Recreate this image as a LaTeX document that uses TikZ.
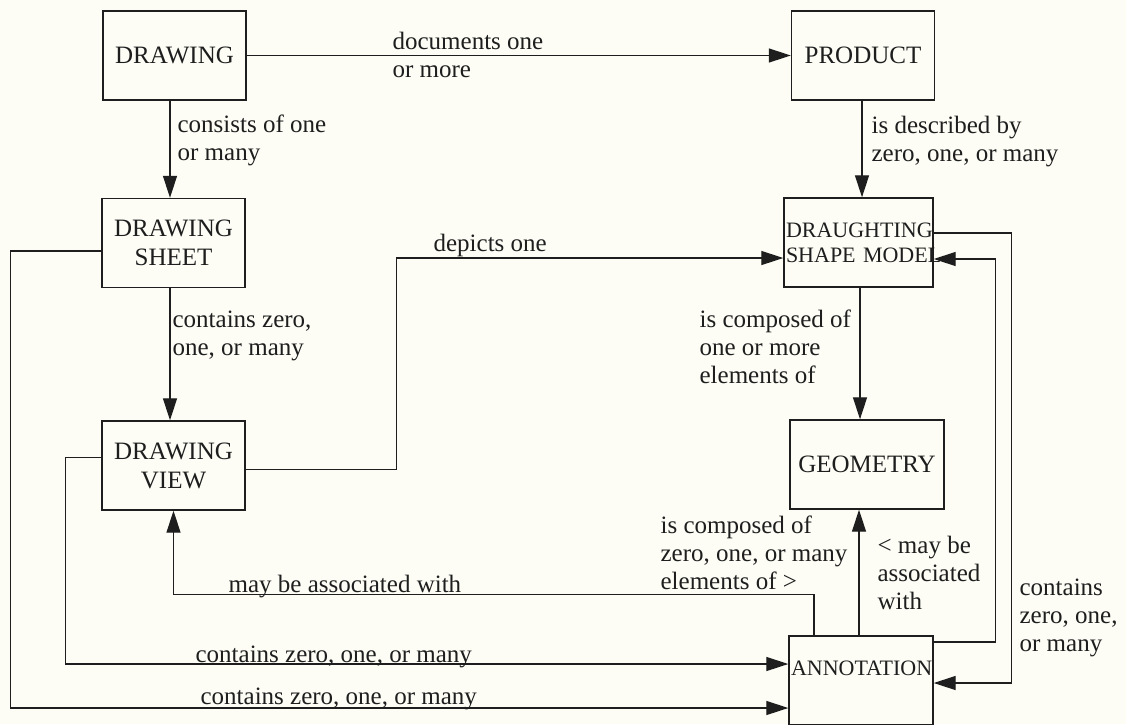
\documentclass[tikz,border=0pt]{standalone}
\usepackage{fontspec}
\setmainfont{Liberation Serif}
\usetikzlibrary{arrows.meta}
\definecolor{paper}{RGB}{253,253,246}
\definecolor{ink}{RGB}{30,30,30}

\begin{document}
\begin{tikzpicture}[x=1pt, y=-1pt, line width=1.25pt, color=ink,
		box/.style = {draw, line width=1.4pt, minimum width=143pt,
		minimum height=89pt, inner sep=1pt, align=center,
		font=\fontsize{25}{29}\selectfont},
		tight/.style = {text width=#1, inner xsep=2pt,
		font=\fontsize{22}{25}\selectfont},
		lbl/.style = {align=left, inner sep=0pt,
		font=\fontsize{25}{28}\selectfont},
		arr/.style = {-{Triangle[length=22pt,width=14pt]}}]

	\fill [paper] (0,0) rectangle (1126,724);
	\useasboundingbox (0,0) rectangle (1126,724);

	\node [box] (drawing) at (174.5,55.5) {DRAWING};
	\node [box] (product) at (863,55.5) {PRODUCT};
	\node [box] (sheet) at (173.5,243) {DRAWING\\SHEET};
	\node [box] (view) at (173.5,465.5) {DRAWING\\VIEW};
	\node [box, tight=145pt] (dsm) at (858.5,242.5) {DRAUGHTING\\SHAPE~MODEL};
	\node [box, minimum width=154pt] (geom) at (867,464.5) {GEOMETRY};
	\node [box, tight=140pt, text depth=25pt] (annot) at (861,680.5) {ANNOTATION};

	\draw [arr] (drawing) -- (product);
	\draw [arr] ([xshift=-4.5pt]drawing.south) -- ([xshift=-4.5pt]drawing.south |- sheet.north);
	\draw [arr] ([xshift=-3.5pt]sheet.south) -- ([xshift=-3.5pt]sheet.south |- view.north);
	\draw [arr] ([xshift=-1pt]product.south) -- ([xshift=-1pt]product.south |- dsm.north);
	\draw [arr] ([xshift=1.5pt]dsm.south) -- ([xshift=1.5pt]dsm.south |- geom.north);
	\draw [arr] ([xshift=-2pt]annot.north) -- ([xshift=-2pt]annot.north |- geom.south);

	\draw [arr] ([yshift=-4pt]view.east) -- ++(151,0) |- ([yshift=-15.5pt]dsm.west);
	\draw [arr] ([xshift=-47pt]annot.north) -- ++(0,-41) -| (view.south);
	\draw [arr] ([yshift=8pt]view.west) -- ++(-36,0) |- ([yshift=16.5pt]annot.west);
	\draw [arr] ([yshift=-8pt]sheet.west) -- ++(-91,0) |- ([yshift=-27.5pt]annot.west);
	\draw [arr] ([yshift=9.5pt]dsm.east) -- ++(78,0) |- ([yshift=-2.5pt]annot.east);
	\draw [arr] ([yshift=38.5pt]annot.east) -- ++(62,0) |- ([yshift=-16.5pt]dsm.east);

	\node [lbl, anchor=west] (docLbl) at (392,55) {documents one\\or more};
	\node [lbl, anchor=west] (consLbl) at (177,140) {consists of one\\or many};
	\node [lbl, anchor=west] (descLbl) at (871,142) {is described by\\zero, one, or many};
	\node [lbl, anchor=west] (contLbl) at (172,336) {contains zero,\\one, or many};
	\node [lbl, anchor=base west] (depLbl) at (433,251) {depicts one};
	\node [lbl, anchor=west] (compLbl) at (699,347) {is composed of\\one or more\\elements of};
	\node [lbl, anchor=west] (elemLbl) at (660,553) {is composed of\\zero, one, or many\\elements of >};
	\node [lbl, anchor=west] (assocLbl) at (877,573) {< may be\\associated\\with};
	\node [lbl, anchor=west] (annLbl) at (1019,618) {contains\\zero, one,\\or many};
	\node [lbl, anchor=base west] (viewLbl) at (228,592) {may be associated with};
	\node [lbl, anchor=base west] (midLbl) at (195,662) {contains zero, one, or many};
	\node [lbl, anchor=base west] (lowLbl) at (200,704) {contains zero, one, or many};
\end{tikzpicture}
\end{document}
